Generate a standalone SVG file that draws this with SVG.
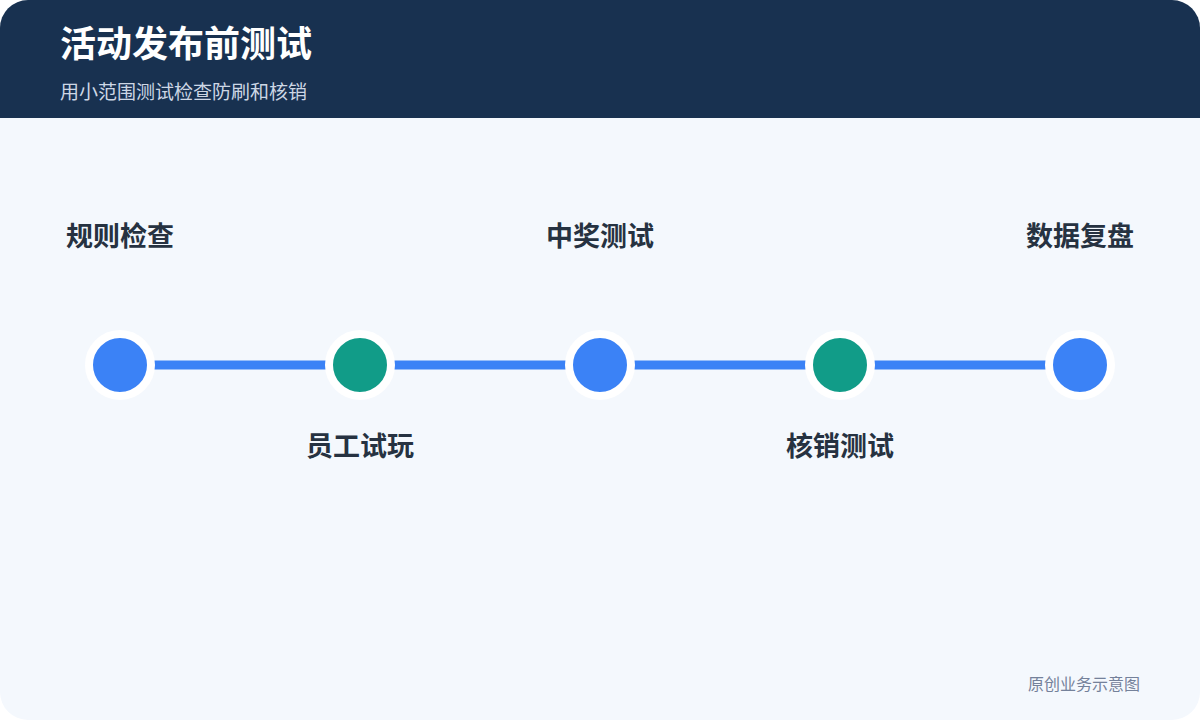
<svg xmlns="http://www.w3.org/2000/svg" width="1200" height="720" viewBox="0 0 1200 720">
<defs>
<style>
.cjk{font-family:"Noto Sans CJK SC","Noto Sans",sans-serif;}
.title{font-size:36px;font-weight:700;fill:#ffffff;}
.sub{font-size:19px;fill:#cdd7e5;}
.lbl{font-size:27px;font-weight:700;fill:#263241;text-anchor:middle;}
.foot{font-size:16px;fill:#74819a;text-anchor:end;}
.dot{stroke:#ffffff;stroke-width:8;}
.blue{fill:#3b82f6;}
.green{fill:#119c88;}
.conn{stroke:#3b82f6;stroke-width:9;}
</style>
<clipPath id="card"><rect x="0" y="0" width="1200" height="720" rx="28"/></clipPath>
</defs>
<rect width="1200" height="720" fill="#ffffff"/>
<g clip-path="url(#card)">
<rect width="1200" height="720" fill="#f4f8fd"/>
<rect width="1200" height="118" fill="#183150"/>
</g>
<text class="cjk title" x="60" y="57">活动发布前测试</text>
<text class="cjk sub" x="60" y="99">用小范围测试检查防刷和核销</text>
<g id="connectors">
<line class="conn" x1="150" y1="365" x2="330" y2="365"/>
<line class="conn" x1="390" y1="365" x2="570" y2="365"/>
<line class="conn" x1="630" y1="365" x2="810" y2="365"/>
<line class="conn" x1="870" y1="365" x2="1050" y2="365"/>
</g>
<g id="n1"><circle class="dot blue" cx="120" cy="365" r="31"/><text class="cjk lbl" x="120" y="246">规则检查</text></g>
<g id="n2"><circle class="dot green" cx="360" cy="365" r="31"/><text class="cjk lbl" x="360" y="456">员工试玩</text></g>
<g id="n3"><circle class="dot blue" cx="600" cy="365" r="31"/><text class="cjk lbl" x="600" y="246">中奖测试</text></g>
<g id="n4"><circle class="dot green" cx="840" cy="365" r="31"/><text class="cjk lbl" x="840" y="456">核销测试</text></g>
<g id="n5"><circle class="dot blue" cx="1080" cy="365" r="31"/><text class="cjk lbl" x="1080" y="246">数据复盘</text></g>
<text class="cjk foot" x="1140" y="690">原创业务示意图</text>
</svg>
